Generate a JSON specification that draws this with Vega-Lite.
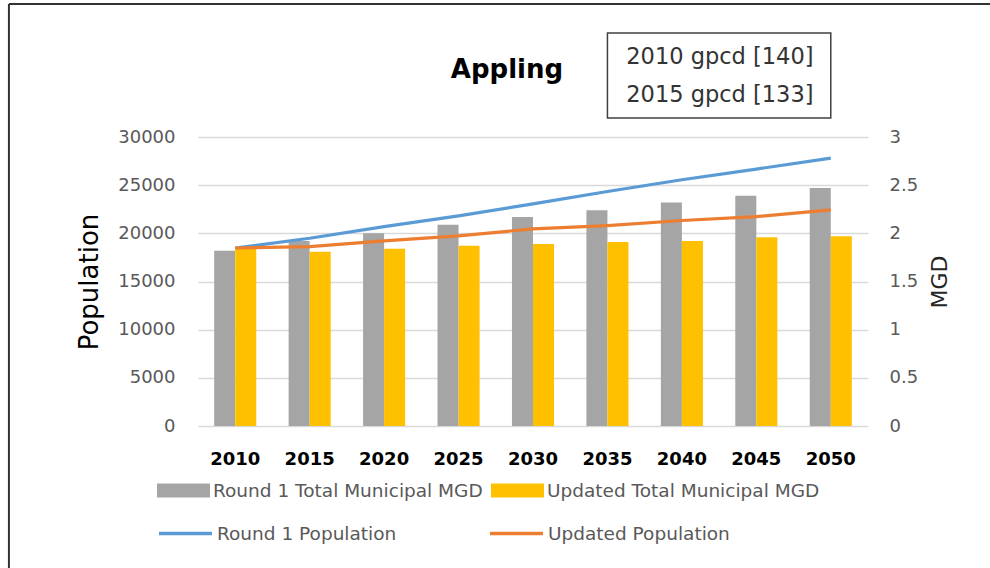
{
  "$schema": "https://vega.github.io/schema/vega-lite/v6.json",
  "width": 670,
  "height": 289,
  "autosize": {"type": "none"},
  "padding": {"left": 198, "top": 137, "right": 122, "bottom": 142},
  "background": "white",
  "title": {
    "text": "Appling",
    "font": "DejaVu Sans",
    "fontSize": 26,
    "fontWeight": "bold",
    "color": "#000000",
    "anchor": "middle",
    "frame": "group",
    "dx": -26,
    "offset": -80
  },
  "datasets": {
    "mgd": [
      {"year": "2010", "series": "Round 1 Total Municipal MGD", "mgd": 1.82},
      {"year": "2015", "series": "Round 1 Total Municipal MGD", "mgd": 1.92},
      {"year": "2020", "series": "Round 1 Total Municipal MGD", "mgd": 2.0},
      {"year": "2025", "series": "Round 1 Total Municipal MGD", "mgd": 2.09},
      {"year": "2030", "series": "Round 1 Total Municipal MGD", "mgd": 2.17},
      {"year": "2035", "series": "Round 1 Total Municipal MGD", "mgd": 2.24},
      {"year": "2040", "series": "Round 1 Total Municipal MGD", "mgd": 2.32},
      {"year": "2045", "series": "Round 1 Total Municipal MGD", "mgd": 2.39},
      {"year": "2050", "series": "Round 1 Total Municipal MGD", "mgd": 2.47},
      {"year": "2010", "series": "Updated Total Municipal MGD", "mgd": 1.84},
      {"year": "2015", "series": "Updated Total Municipal MGD", "mgd": 1.81},
      {"year": "2020", "series": "Updated Total Municipal MGD", "mgd": 1.84},
      {"year": "2025", "series": "Updated Total Municipal MGD", "mgd": 1.87},
      {"year": "2030", "series": "Updated Total Municipal MGD", "mgd": 1.89},
      {"year": "2035", "series": "Updated Total Municipal MGD", "mgd": 1.91},
      {"year": "2040", "series": "Updated Total Municipal MGD", "mgd": 1.92},
      {"year": "2045", "series": "Updated Total Municipal MGD", "mgd": 1.96},
      {"year": "2050", "series": "Updated Total Municipal MGD", "mgd": 1.97}
    ],
    "pop": [
      {"year": "2010", "series": "Round 1 Population", "population": 18480},
      {"year": "2015", "series": "Round 1 Population", "population": 19490},
      {"year": "2020", "series": "Round 1 Population", "population": 20700},
      {"year": "2025", "series": "Round 1 Population", "population": 21820},
      {"year": "2030", "series": "Round 1 Population", "population": 23060},
      {"year": "2035", "series": "Round 1 Population", "population": 24340},
      {"year": "2040", "series": "Round 1 Population", "population": 25560},
      {"year": "2045", "series": "Round 1 Population", "population": 26670},
      {"year": "2050", "series": "Round 1 Population", "population": 27800},
      {"year": "2010", "series": "Updated Population", "population": 18480},
      {"year": "2015", "series": "Updated Population", "population": 18620},
      {"year": "2020", "series": "Updated Population", "population": 19210},
      {"year": "2025", "series": "Updated Population", "population": 19730},
      {"year": "2030", "series": "Updated Population", "population": 20460},
      {"year": "2035", "series": "Updated Population", "population": 20810},
      {"year": "2040", "series": "Updated Population", "population": 21330},
      {"year": "2045", "series": "Updated Population", "population": 21740},
      {"year": "2050", "series": "Updated Population", "population": 22440}
    ],
    "notes": [
      {"note": "2010 gpcd  [140]"},
      {"note": "2015 gpcd  [133]"}
    ]
  },
  "layer": [
    {
      "data": {"name": "mgd"},
      "mark": {"type": "bar"},
      "encoding": {
        "x": {
          "field": "year",
          "type": "nominal",
          "scale": {"paddingInner": 0.435, "paddingOuter": 0.2175},
          "axis": {
            "title": null,
            "labelAngle": 0,
            "labelFont": "DejaVu Sans",
            "labelFontSize": 18,
            "labelFontWeight": "bold",
            "labelColor": "#000000",
            "labelPadding": 24,
            "tickSize": 0,
            "ticks": false,
            "domain": false,
            "grid": false
          }
        },
        "xOffset": {"field": "series", "type": "nominal", "scale": {"paddingInner": 0, "paddingOuter": 0}},
        "y": {
          "field": "mgd",
          "type": "quantitative",
          "scale": {"domain": [0, 3], "nice": false},
          "axis": {
            "orient": "right",
            "title": "MGD",
            "values": [0, 0.5, 1, 1.5, 2, 2.5, 3],
            "format": "~g",
            "grid": false,
            "domain": false,
            "ticks": false,
            "tickSize": 0,
            "labelFont": "DejaVu Sans",
            "labelFontSize": 18,
            "labelColor": "#595959",
            "labelPadding": 21,
            "titleFont": "DejaVu Sans",
            "titleFontSize": 22,
            "titleFontWeight": "normal",
            "titleColor": "#262626",
            "titleAngle": 270,
            "titleBaseline": "top",
            "titlePadding": 12
          }
        },
        "color": {
          "field": "series",
          "type": "nominal",
          "scale": {
            "domain": ["Round 1 Total Municipal MGD", "Updated Total Municipal MGD"],
            "range": ["#A5A5A5", "#FFC000"]
          },
          "legend": {
            "title": null,
            "orient": "none",
            "legendX": -41,
            "legendY": 327,
            "direction": "horizontal",
            "columns": 2,
            "columnPadding": 8,
            "symbolType": "M-1,-0.26H1V0.26H-1Z",
            "symbolSize": 2809,
            "symbolStrokeWidth": 0,
            "labelOffset": 3,
            "labelLimit": 400
          }
        }
      }
    },
    {
      "layer": [
        {
          "data": {"name": "pop"},
          "mark": {"type": "line", "strokeWidth": 3.2},
          "encoding": {
            "x": {"field": "year", "type": "nominal"},
            "y": {
              "field": "population",
              "type": "quantitative",
              "scale": {"domain": [0, 30000], "nice": false},
              "axis": {
                "orient": "left",
                "title": "Population",
                "values": [0, 5000, 10000, 15000, 20000, 25000, 30000],
                "format": "d",
                "grid": true,
                "gridColor": "#D9D9D9",
                "gridWidth": 1.3,
                "domain": false,
                "ticks": false,
                "tickSize": 0,
                "labelFont": "DejaVu Sans",
                "labelFontSize": 18,
                "labelColor": "#595959",
                "labelPadding": 23,
                "titleFont": "DejaVu Sans",
                "titleFontSize": 26,
                "titleFontWeight": "normal",
                "titleColor": "#000000",
                "titlePadding": 15
              }
            },
            "stroke": {
              "field": "series",
              "type": "nominal",
              "scale": {
                "domain": ["Round 1 Population", "Updated Population"],
                "range": ["#5B9BD5", "#ED7D31"]
              },
              "legend": {
                "title": null,
                "orient": "none",
                "legendX": -41,
                "legendY": 368,
                "direction": "horizontal",
                "columns": 2,
                "columnPadding": 86,
                "symbolType": "stroke",
                "symbolSize": 2809,
                "symbolStrokeWidth": 3.5,
                "labelOffset": 3,
                "labelLimit": 400
              }
            }
          }
        },
        {
          "data": {"name": "notes"},
          "transform": [{"filter": "datum.note == '2010 gpcd  [140]'"}],
          "mark": {"type": "rule", "stroke": "#333333", "strokeWidth": 2},
          "encoding": {
            "x": {"datum": "2010", "type": "nominal", "bandPosition": -4.88},
            "x2": {"datum": "2050", "bandPosition": 4.4},
            "y": {"datum": 43808, "type": "quantitative"}
          }
        },
        {
          "data": {"name": "notes"},
          "transform": [{"filter": "datum.note == '2010 gpcd  [140]'"}],
          "mark": {"type": "rule", "stroke": "#333333", "strokeWidth": 2},
          "encoding": {
            "x": {"datum": "2010", "type": "nominal", "bandPosition": -4.88},
            "y": {"datum": 43808, "type": "quantitative"},
            "y2": {"datum": -15000}
          }
        },
        {
          "data": {"name": "notes"},
          "transform": [{"filter": "datum.note == '2010 gpcd  [140]'"}],
          "mark": {"type": "rect", "fill": "white", "stroke": "#404040", "strokeWidth": 1.5},
          "encoding": {
            "x": {"datum": "2035", "type": "nominal", "bandPosition": 0.5},
            "x2": {"datum": "2050", "bandPosition": 0.5},
            "y": {"datum": 40797, "type": "quantitative"},
            "y2": {"datum": 31974}
          }
        },
        {
          "data": {"name": "notes"},
          "transform": [{"filter": "datum.note == '2010 gpcd  [140]'"}],
          "mark": {"type": "text", "font": "DejaVu Sans", "fontSize": 22.5, "color": "#333333", "baseline": "middle", "align": "center", "dx": 38},
          "encoding": {
            "x": {"datum": "2040", "type": "nominal", "bandPosition": 0.5},
            "y": {"datum": 38306, "type": "quantitative"},
            "text": {"field": "note", "type": "nominal"}
          }
        },
        {
          "data": {"name": "notes"},
          "transform": [{"filter": "datum.note == '2015 gpcd  [133]'"}],
          "mark": {"type": "text", "font": "DejaVu Sans", "fontSize": 22.5, "color": "#333333", "baseline": "middle", "align": "center", "dx": 38},
          "encoding": {
            "x": {"datum": "2040", "type": "nominal", "bandPosition": 0.5},
            "y": {"datum": 34361, "type": "quantitative"},
            "text": {"field": "note", "type": "nominal"}
          }
        }
      ]
    }
  ],
  "resolve": {"scale": {"y": "independent"}},
  "config": {
    "view": {"stroke": null},
    "legend": {
      "labelFont": "DejaVu Sans",
      "labelFontSize": 18.5,
      "labelColor": "#595959",
      "padding": 0,
      "rowPadding": 0
    }
  }
}
